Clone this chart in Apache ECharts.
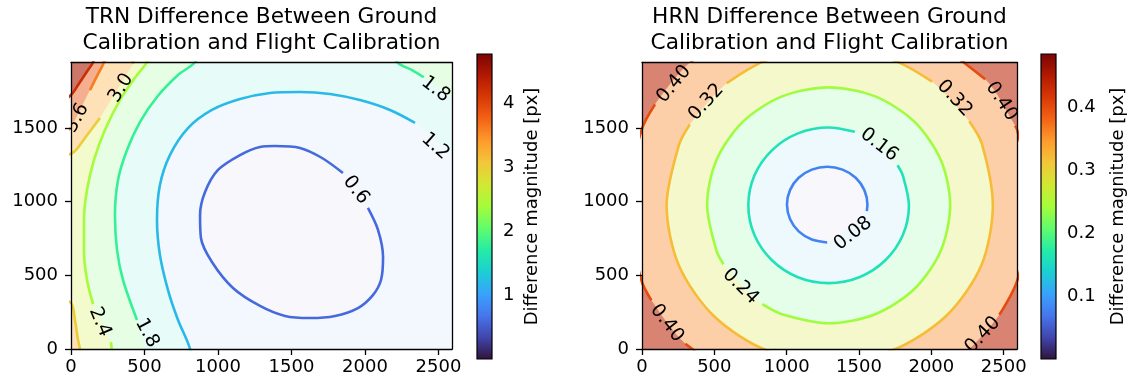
<!DOCTYPE html>
<html><head><meta charset="utf-8">
<script src="https://cdn.jsdelivr.net/npm/echarts@6/dist/echarts.min.js"></script>
<style>html,body{margin:0;padding:0;background:#fff}#c{width:1127px;height:383px}</style>
</head><body><div id="c"></div>
<script>
// ---------------- data ----------------
const X_MAX = 2592, Y_MAX = 1944;
const xTicks = [0, 500, 1000, 1500, 2000, 2500];
const yTicks = [0, 500, 1000, 1500];

// TRN panel
const trnTitle = ['TRN Difference Between Ground', 'Calibration and Flight Calibration'];
const trnLevels = [0.6, 1.2, 1.8, 2.4, 3.0, 3.6, 4.2];
const trnMax = 4.77;
const trnCbTicks = [1, 2, 3, 4];
const trn06 = [[2020,957],[2089,807],[2123,624],[2109,468],[2054,366],[1952,278],[1796,224],[1626,210],[1456,224],[1286,292],[1102,414],[959,590],[884,753],[878,909],[912,1065],[1000,1215],[1150,1316],[1286,1371],[1388,1377],[1558,1364],[1708,1296],[1850,1194]];
const trn12 = [[823,-142],[810,0],[728,197],[660,400],[605,638],[585,875],[605,1113],[673,1316],[796,1499],[959,1622],[1150,1696],[1354,1737],[1558,1744],[1762,1730],[1966,1689],[2170,1622],[2340,1535],null,[2748,1201],[2748,-142]];
const trn18 = [[551,-142],null,[449,197],[354,468],[313,672],[299,909],[320,1147],[381,1350],[469,1540],[585,1710],[728,1859],[844,1947],[912,2097],[2170,2097],[2218,1947],[2320,1893],[2400,1844],null,[2748,1588],[2748,-142]];
const trn24 = [[293,-142],[272,47],null,[150,305],[109,468],[88,672],[88,875],[109,1079],[156,1282],[231,1486],[333,1689],[449,1859],[517,1947],[558,2097],[2748,2097],[2748,-142]];
const trn30 = [[75,-142],[61,0],[48,61],[27,197],[0,312],[-143,400],[-143,807],[-143,1248],[20,1337],[95,1432],[197,1567],null,[422,1934],[456,2097],[2748,2097],[2748,-142]];
const trn36 = [[-143,1418],[0,1499],null,[129,1757],[184,1866],[224,1947],[252,2097],[2748,2097],[2748,-142],[-143,-142]];
const trn42 = [[-143,1620],[0,1723],[61,1812],[116,1893],[150,1947],[177,2097],[2748,2097],[2748,-142],[-143,-142]];
const trnLabelText = ['0.6', '1.2', '1.8', '1.8', '2.4', '3.0', '3.6'];
const trnLabelPos = [[1939,1079],[2478,1375],[2480,1762],[517,109],[197,183],[340,1771],[41,1567]];
const trnLabelAngle = [-52, -42, -38, -62, -67, 58, 62];

// HRN panel
const hrnTitle = ['HRN Difference Between Ground', 'Calibration and Flight Calibration'];
const hrnLevels = [0.08, 0.16, 0.24, 0.32, 0.40];
const hrnMax = 0.485;
const hrnCbTicks = [0.1, 0.2, 0.3, 0.4];
const hrn008 = [[1554,935],[1558,980],[1537,1078],[1477,1162],[1386,1217],[1280,1237],[1174,1217],[1083,1162],[1023,1078],[1002,980],[1023,882],[1083,798],[1174,743],[1280,723]];
const hrn016 = [[1471,1474],[1290,1503],[1078,1463],[898,1348],[777,1177],[735,975],[777,773],[898,602],[1078,487],[1290,447],[1502,487],[1682,602],[1803,773],[1845,975],[1803,1177],[1766,1247]];
const hrn024 = [[832,304],[968,236],[1290,175],[1612,236],[1884,409],[2066,669],[2130,975],[2066,1281],[1884,1541],[1612,1714],[1290,1775],[968,1714],[696,1541],[514,1281],[450,975],[514,669],[563,575]];
const hrn032 = [[2005,1814],[1730,1962],[1290,2040],[861,1959],[585,1803],null,[330,1523],[255,1383],[170,975],[255,567],[498,222],[861,-9],[1290,-90],[1730,-9],[2100,222],[2345,567],[2425,975],[2350,1390],[2262,1545]];
const hrn040 = [[90,1660],[-4,1484],[-110,975],[-4,466],[65,330],null,[300,35],[754,-254],[1290,-355],[1826,-254],[2210,-44],null,[2470,232],[2594,466],[2700,975],[2594,1484],[2579,1516],null,[2372,1830],[1826,2204],[1290,2305],[754,2204],[335,1947]];
const hrnLabelText = ['0.08', '0.16', '0.24', '0.32', '0.32', '0.40', '0.40', '0.40', '0.40'];
const hrnLabelPos = [[1459,783],[1639,1385],[681,425],[444,1674],[2160,1700],[221,1798],[2485,1680],[172,175],[2355,95]];
const hrnLabelAngle = [38, -38, -45, 48, -47, 50, -57, -52, 47];

const cbLabel = 'Difference magnitude [px]';

// ---------------- style helpers ----------------
const FONT = 'DejaVu Sans';
const TURBO = ['#30123b','#4145ab','#4675ed','#39a2fc','#1bcfd4','#24eca6','#61fc6c','#a4fc3b','#d1e834','#f3c63a','#fe9b2d','#f36315','#d93806','#b11901','#7a0402'];
function hex2rgb(h){return [parseInt(h.slice(1,3),16),parseInt(h.slice(3,5),16),parseInt(h.slice(5,7),16)];}
function turbo(t){
  t = Math.max(0, Math.min(1, t));
  const f = t * (TURBO.length - 1);
  const i = Math.min(TURBO.length - 2, Math.floor(f));
  const r = f - i, a = hex2rgb(TURBO[i]), b = hex2rgb(TURBO[i + 1]);
  return a.map((v, k) => Math.round(v + (b[k] - v) * r));
}
function css(c){return 'rgb(' + c.join(',') + ')';}
function tint(t){
  const c = turbo(t);
  const a = 0.03 + 0.62 * Math.pow(Math.max(0, t), 1.8);
  return css(c.map(v => Math.round(255 + (v - 255) * a)));
}
const BLACK = '#000';

const grids = [
  {left: 71, top: 62.5, width: 381, height: 286.5},
  {left: 642, top: 62.5, width: 375, height: 286.5},
  {left: 477, top: 54, width: 15, height: 305},
  {left: 1041, top: 54, width: 15, height: 305}
];

const xAxes = [], yAxes = [], series = [];

function mainAxes(g){
  const line = {show: true, onZero: false, lineStyle: {color: BLACK, width: 1.3}};
  const tick = {show: true, length: 6, lineStyle: {color: BLACK, width: 1.3}};
  const lab = {fontSize: 18, color: BLACK, fontFamily: FONT, formatter: v => String(v)};
  xAxes.push({type: 'value', gridIndex: g, min: 0, max: X_MAX, position: 'bottom', z: 10,
    axisLine: line, axisTick: Object.assign({customValues: xTicks}, tick),
    axisLabel: Object.assign({customValues: xTicks, margin: 9}, lab), splitLine: {show: false}});
  xAxes.push({type: 'value', gridIndex: g, min: 0, max: X_MAX, position: 'top', z: 10,
    axisLine: line, axisTick: {show: false}, axisLabel: {show: false}, splitLine: {show: false}});
  yAxes.push({type: 'value', gridIndex: g, min: 0, max: Y_MAX, position: 'left', z: 10,
    axisLine: line, axisTick: Object.assign({customValues: yTicks}, tick),
    axisLabel: Object.assign({customValues: yTicks, margin: 13}, lab), splitLine: {show: false}});
  yAxes.push({type: 'value', gridIndex: g, min: 0, max: Y_MAX, position: 'right', z: 10,
    axisLine: line, axisTick: {show: false}, axisLabel: {show: false}, splitLine: {show: false}});
}

function panel(g, axBase, levels, paths, vmax, ltxt, lpos, lang, smoothFill){
  const xi = axBase, yi = axBase;
  series.push({
    type: 'custom', xAxisIndex: xi, yAxisIndex: yi, clip: true, silent: true, z: 1,
    data: [[0, 0]],
    renderItem: function(params, api){
      const cs = params.coordSys;
      const top = levels[levels.length - 1];
      const children = [{type: 'rect', shape: {x: cs.x, y: cs.y, width: cs.width, height: cs.height},
        style: {fill: tint((top + vmax) / 2 / vmax)}}];
      for (let k = levels.length - 1; k >= 0; k--) {
        const lo = k === 0 ? 0 : levels[k - 1];
        const mid = (lo + levels[k]) / 2;
        const pts = paths[k].filter(p => p).map(p => api.coord(p));
        children.push({type: 'polygon', shape: {points: pts, smooth: smoothFill[k] ? 0.3 : 0},
          style: {fill: tint(mid / vmax)}});
      }
      return {type: 'group', children: children};
    }
  });
  levels.forEach(function(lv, k){
    series.push({
      type: 'line', xAxisIndex: xi, yAxisIndex: yi, clip: true, silent: true, z: 3,
      data: paths[k].map(p => p ? p : ['-', '-']),
      showSymbol: false, symbol: 'none', smooth: 0.3, connectNulls: false,
      lineStyle: {color: css(turbo(lv / vmax)), width: 2.6}
    });
  });
  series.push({
    type: 'custom', xAxisIndex: xi, yAxisIndex: yi, clip: true, silent: true, z: 4,
    data: lpos.map((p, i) => [p[0], p[1], i]),
    encode: {x: 0, y: 1},
    renderItem: function(params, api){
      const p = api.coord([api.value(0), api.value(1)]);
      const i = api.value(2);
      return {type: 'text', x: p[0], y: p[1], rotation: lang[i] * Math.PI / 180,
        style: {text: ltxt[i], font: '19px "' + FONT + '"', fill: BLACK, align: 'center', verticalAlign: 'middle'}};
    }
  });
}

function colorbar(g, vmax, ticks, fmt){
  const xi = xAxes.length, yi = yAxes.length;
  xAxes.push({type: 'value', gridIndex: g, min: 0, max: 1, show: false});
  yAxes.push({type: 'value', gridIndex: g, min: 0, max: vmax, position: 'right',
    axisLine: {show: false},
    axisTick: {show: true, length: 6, customValues: ticks, lineStyle: {color: BLACK, width: 1.3}},
    axisLabel: {customValues: ticks, fontSize: 18, color: BLACK, fontFamily: FONT, margin: 11, formatter: fmt},
    splitLine: {show: false}});
  series.push({
    type: 'custom', xAxisIndex: xi, yAxisIndex: yi, silent: true, data: [[0, 0]],
    renderItem: function(params, api){
      const cs = params.coordSys;
      return {type: 'rect', shape: {x: cs.x, y: cs.y, width: cs.width, height: cs.height},
        style: {fill: {type: 'linear', x: 0, y: 1, x2: 0, y2: 0,
          colorStops: TURBO.map((c, i) => ({offset: i / (TURBO.length - 1), color: c}))},
          stroke: BLACK, lineWidth: 1.2}};
    }
  });
}

mainAxes(0);
mainAxes(1);
panel(0, 0, trnLevels, [trn06, trn12, trn18, trn24, trn30, trn36, trn42], trnMax,
  trnLabelText, trnLabelPos, trnLabelAngle, [true, false, false, false, false, false, false]);
panel(1, 2, hrnLevels, [hrn008, hrn016, hrn024, hrn032, hrn040], hrnMax,
  hrnLabelText, hrnLabelPos, hrnLabelAngle, [true, true, true, true, true]);
colorbar(2, trnMax, trnCbTicks, v => String(v));
colorbar(3, hrnMax, hrnCbTicks, v => v.toFixed(1));

function titleEls(cx, lines){
  return lines.map((t, i) => ({type: 'text', x: cx, y: 17.5 + i * 26,
    style: {text: t, font: '21.7px "' + FONT + '"', fill: BLACK, align: 'center', verticalAlign: 'middle'}}));
}
const graphics = [].concat(
  titleEls(261.5, trnTitle),
  titleEls(829.5, hrnTitle),
  [{type: 'text', x: 532, y: 206.5, rotation: Math.PI / 2,
    style: {text: cbLabel, font: '18px "' + FONT + '"', fill: BLACK, align: 'center', verticalAlign: 'middle'}},
   {type: 'text', x: 1118, y: 206.5, rotation: Math.PI / 2,
    style: {text: cbLabel, font: '18px "' + FONT + '"', fill: BLACK, align: 'center', verticalAlign: 'middle'}}]
);

const chart = echarts.init(document.getElementById('c'), null, {renderer: 'canvas'});
chart.setOption({
  animation: false,
  backgroundColor: '#fff',
  textStyle: {fontFamily: FONT},
  grid: grids,
  xAxis: xAxes,
  yAxis: yAxes,
  series: series,
  graphic: graphics
});
</script>
</body></html>
